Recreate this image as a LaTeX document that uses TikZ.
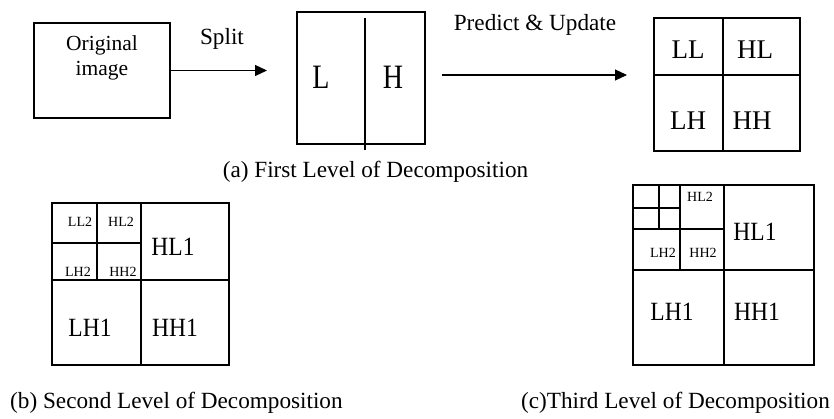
\documentclass[tikz,border=0pt]{standalone}
\usepackage{fontspec}
\usepackage{graphicx}
\setmainfont{Liberation Serif}
\usetikzlibrary{arrows.meta}
\newcommand{\tallbox}[2]{\scalebox{1}[#1]{#2}}
\begin{document}
\begin{tikzpicture}[x=1pt,y=-1pt,
  box/.style={draw,line width=1.1pt,inner sep=0pt,outer sep=0pt},
  sep/.style={line width=1.1pt},
  arr/.style={line width=1.1pt,-{Triangle[length=12pt,width=11pt]}},
  captxt/.style={font=\fontsize{23.2}{26}\selectfont,inner sep=0pt},
  big/.style={font=\fontsize{28}{30}\selectfont,inner sep=0pt},
  mid/.style={font=\fontsize{27}{30}\selectfont,inner sep=0pt},
  one/.style={font=\fontsize{23.5}{26}\selectfont,inner sep=0pt},
  small/.style={font=\fontsize{14}{16}\selectfont,inner sep=0pt}]
\useasboundingbox (0,0) rectangle (834,419);
% original image
\node[box,minimum width=136pt,minimum height=95pt] (orig) at (102,70.5) {};
\node[align=center,inner sep=0pt,font=\fontsize{21.5}{25}\selectfont] (origt) at (102,58) {Original\\image};
% L H box
\node[box,minimum width=128pt,minimum height=132pt] (lh) at (361,78) {};
\coordinate (lhtop) at (365,18);
\coordinate (lhbot) at (365,150);
\draw[sep] (lhtop) -- (lhbot);
\node[big] (L) at (321,77) {\tallbox{1.22}{L}};
\node[big] (H) at (393,77) {\tallbox{1.22}{H}};
% quad box
\node[box,minimum width=146pt,minimum height=133pt] (quad) at (727,84.5) {};
\draw[sep] (quad.north -| 723,0) -- (quad.south -| 723,0);
\draw[sep] (quad.west |- 0,75) -- (quad.east |- 0,75);
\node[mid] (LL) at (688,50) {LL};
\node[mid] (HL) at (755,50) {HL};
\node[mid] (LHq) at (688,121) {LH};
\node[mid] (HH) at (752,121) {HH};
% arrows
\draw[arr,shorten >=30pt] (orig.east) -- (orig.east -| lh.west);
\node[captxt] (split) at (222,39) {Split};
\draw[arr,shorten <=17pt,shorten >=27pt] (lh.east |- 0,75) -- (quad.west |- 0,75);
\node[captxt] (pu) at (535,25) {Predict \& Update};
\node[captxt] (capa) at (375.5,172) {(a) First Level of Decomposition};
% second level
\node[box,minimum width=177pt,minimum height=162pt] (b) at (140.5,284) {};
\draw[sep] (b.north -| 141,0) -- (b.south -| 141,0);
\draw[sep] (b.west |- 0,280) -- (b.east |- 0,280);
\draw[sep] (b.north -| 97,0) -- (97,280);
\draw[sep] (b.west |- 0,243) -- (141,243);
\node[small] (ll2) at (80,222) {LL2};
\node[small] (hl2) at (121,222) {HL2};
\node[small] (lh2) at (78,272) {LH2};
\node[small] (hh2) at (123,272) {HH2};
\node[one] (hl1b) at (173,247) {\tallbox{1.12}{HL1}};
\node[one] (lh1b) at (90,328) {\tallbox{1.12}{LH1}};
\node[one] (hh1b) at (175,328) {\tallbox{1.12}{HH1}};
\node[captxt,anchor=west] (capb) at (10,403) {(b) Second Level of Decomposition};
% third level
\node[box,minimum width=181pt,minimum height=180pt] (c) at (723.5,275) {};
\draw[sep] (c.north -| 724,0) -- (c.south -| 724,0);
\draw[sep] (c.west |- 0,270) -- (c.east |- 0,270);
\draw[sep] (c.north -| 680,0) -- (680,270);
\draw[sep] (c.west |- 0,229) -- (724,229);
\draw[sep] (c.north -| 659,0) -- (659,229);
\draw[sep] (c.west |- 0,208) -- (680,208);
\node[small] (hl2c) at (700,197) {HL2};
\node[small] (lh2c) at (663,253) {LH2};
\node[small] (hh2c) at (703,253) {HH2};
\node[one] (hl1c) at (755,232) {\tallbox{1.12}{HL1}};
\node[one] (lh1c) at (672,312) {\tallbox{1.12}{LH1}};
\node[one] (hh1c) at (757,312) {\tallbox{1.12}{HH1}};
\node[captxt,anchor=east] (capc) at (830,403) {(c)Third Level of Decomposition};
\end{tikzpicture}
\end{document}
